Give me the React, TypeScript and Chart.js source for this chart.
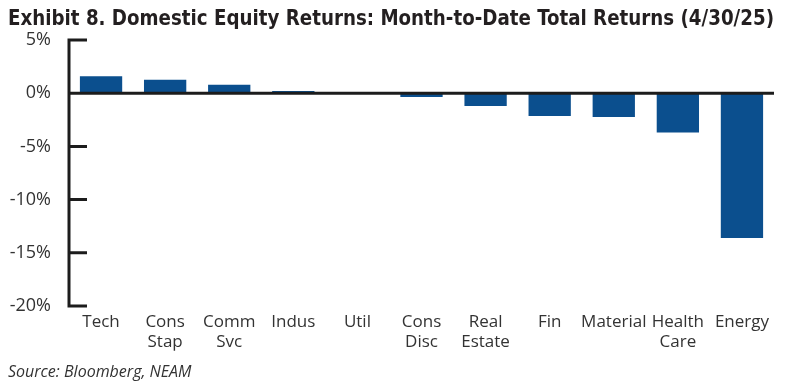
import React, { useEffect, useRef } from "react";
import { Chart, registerables } from "chart.js";

Chart.register(...registerables);

const titleText = "Exhibit 8. Domestic Equity Returns: Month-to-Date Total Returns (4/30/25)";
const sourceText = "Source: Bloomberg, NEAM";
const categories: string[][] = [
  ["Tech"],
  ["Cons", "Stap"],
  ["Comm", "Svc"],
  ["Indus"],
  ["Util"],
  ["Cons", "Disc"],
  ["Real", "Estate"],
  ["Fin"],
  ["Material"],
  ["Health", "Care"],
  ["Energy"],
];
const returnsPct: number[] = [1.6, 1.25, 0.8, 0.2, 0.1, -0.35, -1.2, -2.15, -2.25, -3.7, -13.6];
const yMin = -20;
const yMax = 5;
const yStep = 5;

const axisMarks = {
  id: "axisMarks",
  afterDatasetsDraw(chart: any) {
    const { ctx, chartArea, scales } = chart;
    const y = scales.y;
    const left = chartArea.left;
    ctx.save();
    ctx.strokeStyle = "#1c1c1c";
    ctx.lineWidth = 3;
    ctx.lineCap = "butt";
    ctx.beginPath();
    ctx.moveTo(left, y.getPixelForValue(yMax) - 1.5);
    ctx.lineTo(left, y.getPixelForValue(yMin) + 1.5);
    y.ticks.forEach((t: any) => {
      const py = y.getPixelForValue(t.value);
      ctx.moveTo(left, py);
      ctx.lineTo(left + 18, py);
    });
    const zy = y.getPixelForValue(0);
    ctx.moveTo(left, zy);
    ctx.lineTo(chartArea.right, zy);
    ctx.stroke();
    ctx.restore();
  },
};

export default function App() {
  const ref = useRef<HTMLCanvasElement>(null);
  useEffect(() => {
    document.body.style.margin = "0";
    const chart = new Chart(ref.current!, {
      type: "bar",
      data: {
        labels: categories,
        datasets: [
          {
            data: returnsPct,
            backgroundColor: "#0b4f8e",
            barPercentage: 0.66,
            categoryPercentage: 1,
          },
        ],
      },
      options: {
        animation: false,
        responsive: false,
        layout: { padding: { left: 8, right: 12, top: 5, bottom: 4 } },
        plugins: {
          legend: { display: false },
          tooltip: { enabled: false },
          title: {
            display: true,
            text: titleText,
            align: "start",
            color: "#231f20",
            font: { family: "'DejaVu Sans Condensed', sans-serif", size: 20.8, weight: "bold" },
            padding: { top: 2, bottom: 8 },
          },
          subtitle: {
            display: true,
            text: sourceText,
            position: "bottom",
            align: "start",
            color: "#333",
            font: { family: "'Open Sans', sans-serif", size: 16, style: "italic" },
            padding: { top: 12, bottom: 0 },
          },
        },
        scales: {
          x: {
            grid: { display: false },
            border: { display: false },
            ticks: {
              color: "#333",
              font: { family: "'Open Sans', sans-serif", size: 17 },
              maxRotation: 0,
              autoSkip: false,
              padding: -2,
            },
          },
          y: {
            min: yMin,
            max: yMax,
            grid: { display: false },
            border: { display: false },
            ticks: {
              stepSize: yStep,
              color: "#333",
              font: { family: "'Open Sans', sans-serif", size: 18 },
              padding: 10,
              callback: (v: any) => `${v}%`,
            },
            afterFit: (s: any) => {
              s.width = 61;
            },
          },
        },
      },
      plugins: [axisMarks],
    });
    return () => chart.destroy();
  }, []);
  return <canvas ref={ref} width={786} height={386} />;
}
